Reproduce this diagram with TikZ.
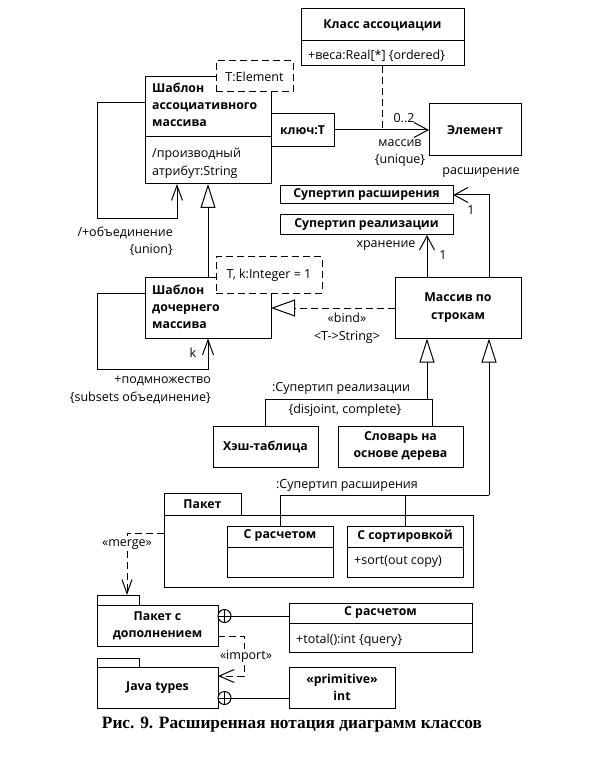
\documentclass[tikz,border=0pt]{standalone}
\usepackage{fontspec}
\setmainfont{Open Sans}
\newfontfamily\capfont{Liberation Serif}
\usetikzlibrary{arrows.meta}
\begin{document}
\begin{tikzpicture}[x=1pt,y=-1pt,
  box/.style={draw, line width=1pt, inner sep=0pt, outer sep=0pt, fill=white},
  dbox/.style={box, dash pattern=on 7pt off 4pt},
  t/.style={font=\fontsize{12.5}{17}\selectfont, inner sep=0pt},
  tb/.style={font=\bfseries\fontsize{12.3}{17}\selectfont, inner sep=0pt},
  ln/.style={line width=1pt},
  dep/.style={ln, dash pattern=on 7pt off 4pt},
  barb/.style={-{Straight Barb[length=14pt,width=15pt]}},
  sbarb/.style={-{Straight Barb[length=15pt,width=11pt]}},
  gen/.style={ln, -{Triangle[open, length=24pt, width=15pt]}},
  nest/.style={circle, draw, line width=1pt, minimum size=13pt, inner sep=0pt, outer sep=0pt, fill=white,
    path picture={\draw[line width=1pt] (path picture bounding box.north) -- (path picture bounding box.south)
      (path picture bounding box.west) -- (path picture bounding box.east);}}
]
\useasboundingbox (0,0) rectangle (591,775);
\fill[white] (0,0) rectangle (591,775);

% Класс ассоциации
\node[box, minimum width=163pt, minimum height=57pt] (ka) at (382.5,37.5) {};
\draw[ln] (ka.west |- 0,41) -- (ka.east |- 0,41);
\node[tb] (kat) at (382.5,25) {Класс ассоциации};
\node[t, anchor=west] (kaa) at (308,56) {+веса:Real[*] \{ordered\}};

% Шаблон ассоциативного массива
\node[box, minimum width=126pt, minimum height=107pt] (sa) at (208,130.5) {};
\draw[ln] (sa.west |- 0,137) -- (sa.east |- 0,137);
\node[tb, anchor=west, align=left] (sat) at (152,105) {Шаблон\\ассоциативного\\массива};
\node[t, anchor=west, align=left, font=\fontsize{12.5}{18}\selectfont] (saa) at (152,163) {/производный\\атрибут:String};
\node[dbox, t, minimum width=77pt, minimum height=31pt] (te) at (254.5,76.5) {T:Element};

% qualifier and Элемент
\node[box, tb, minimum width=63pt, minimum height=33pt] (q) at (302.5,130) {ключ:T};
\node[box, tb, minimum width=92pt, minimum height=52pt] (el) at (475,130) {Элемент};
\draw[ln, barb] (q.east) -- (el.west);
\draw[dep] (ka.south) -- (ka.south |- q.east);
\node[t] (l02) at (404,118) {0..2};
\node[t, align=center] (lmas) at (400,153.5) {массив\\\{unique\}};

% Супертипы
\node[box, tb, minimum width=173pt, minimum height=18pt] (sr) at (366.5,195) {Супертип расширения};
\node[box, tb, minimum width=173pt, minimum height=20pt] (sz) at (366.5,225) {Супертип реализации};

% Массив по строкам
\node[box, tb, align=center, minimum width=126pt, minimum height=61pt, font=\bfseries\fontsize{12.3}{18}\selectfont] (ms) at (458,308) {Массив по\\строкам};
\draw[ln, barb] ([xshift=31pt]ms.north) |- (sr.east);
\draw[ln, barb] ([xshift=-31pt]ms.north) -- ([xshift=-31pt]ms.north |- sz.south);
\node[t] (lras) at (481,173) {расширение};
\node[t] (l1a) at (471,210) {1};
\node[t] (lhr) at (386,246) {хранение};
\node[t] (l1b) at (443,255) {1};

% Шаблон дочернего массива
\node[box, minimum width=126pt, minimum height=61pt] (ch) at (208,308) {};
\node[tb, anchor=west, align=left] (cht) at (152,307) {Шаблон\\дочернего\\массива};
\draw[gen] (ch.north) -- (sa.south);
\node[dbox, t, minimum width=106pt, minimum height=36pt] (tk) at (269,275) {T, k:Integer = 1};
\draw[dep, -{Triangle[open, length=24pt, width=17pt]}] (ms.west) -- (ch.east);
\node[t, align=center, font=\fontsize{12.5}{18}\selectfont] (lbind) at (347,328) {«bind»\\<T->String>};

% self loops
\coordinate (c1) at (97,219);
\draw[ln, sbarb] ([yshift=27.5pt]sa.west) -| (c1) -| ([xshift=-31pt]sa.south);
\node[t, anchor=east] (lun1) at (173,233) {/+объединение};
\node[t, anchor=east] (lun2) at (173,250) {\{union\}};
\coordinate (c2) at (97,369);
\draw[ln, sbarb] ([yshift=15pt]ch.west) -| (c2) -| (ch.south);
\node[t] (lk) at (193,353) {k};
\node[t, anchor=east] (lsub1) at (211,381) {+подмножество};
\node[t, anchor=east] (lsub2) at (211,398) {\{subsets объединение\}};

% realization subtypes
\node[box, tb, minimum width=105pt, minimum height=41pt] (ht) at (265.5,446.5) {Хэш-таблица};
\node[box, tb, align=center, minimum width=125pt, minimum height=41pt] (sd) at (400.5,446.5) {Словарь на\\основе дерева};
\coordinate (g1) at (427,399);
\draw[gen] (g1) -- ([xshift=-31pt]ms.south);
\draw[ln] (ht.north) |- ([xshift=31.5pt]sd.north |- g1) -- ([xshift=31.5pt]sd.north);
\node[t] (lsr1) at (341,388) {:Супертип реализации};
\node[t] (lsr2) at (345,410) {\{disjoint, complete\}};

% Пакет
\node[box, tb, minimum width=77pt, minimum height=22pt] (pkt) at (202.5,504) {Пакет};
\node[box, minimum width=309pt, minimum height=72pt] (pkb) at (318.5,551) {};
\node[box, minimum width=106pt, minimum height=51pt] (cr1) at (280,551.5) {};
\draw[ln] (cr1.west |- 0,547) -- (cr1.east |- 0,547);
\node[tb] (cr1t) at (280,536) {С расчетом};
\node[box, minimum width=116pt, minimum height=51pt] (cs) at (405,551.5) {};
\draw[ln] (cs.west |- 0,547) -- (cs.east |- 0,547);
\node[tb] (cst) at (405,536) {С сортировкой};
\node[t, anchor=west] (csa) at (354,562) {+sort(out copy)};
\coordinate (g2) at (489,495);
\draw[gen] (g2) -- ([xshift=31pt]ms.south);
\draw[ln] (cr1.north) |- (g2);
\draw[ln] (cs.north) -- (cs.north |- g2);
\node[t] (lsr3) at (347,485) {:Супертип расширения};

% Пакет с дополнением
\node[box, minimum width=42pt, minimum height=10pt] (pdt) at (118,600) {};
\node[box, tb, align=center, minimum width=121pt, minimum height=41pt] (pdb) at (157.5,625.5) {Пакет с\\дополнением};
\draw[dep, -{Straight Barb[length=14pt,width=10pt]}] ([yshift=18pt]pkb.west) -| ([xshift=9pt]pdt.north);
\node[t, fill=white, inner sep=1pt] (lmerge) at (127,545) {«merge»};
\node[nest, anchor=west] (n1) at ([yshift=9.5pt]pdb.east) {};
\node[box, minimum width=183pt, minimum height=49pt] (cr2) at (380.5,627.5) {};
\draw[ln] (cr2.west |- 0,623) -- (cr2.east |- 0,623);
\node[tb] (cr2t) at (380.5,613) {С расчетом};
\node[t, anchor=west] (cr2a) at (296,640) {+total():int \{query\}};
\draw[ln] (n1.east) -- (n1.east -| cr2.west);

% Java types
\node[box, minimum width=42pt, minimum height=9pt] (jtt) at (118,662.5) {};
\node[box, tb, minimum width=121pt, minimum height=41pt] (jtb) at (157.5,687.5) {Java types};
\coordinate (ic) at (244,676);
\draw[dep, -{Straight Barb[length=15pt,width=13pt]}] ([yshift=-10.5pt]pdb.east) -| (ic) -- (ic -| jtb.east);
\node[t, fill=white, inner sep=1pt] (limp) at (246,656) {«import»};
\node[nest, anchor=west] (n2) at ([yshift=-10.5pt]jtb.east) {};
\node[box, tb, align=center, minimum width=106pt, minimum height=41pt] (pr) at (342,687.5) {«primitive»\\int};
\draw[ln] (n2.east) -- (n2.east -| pr.west);

% caption
\node[font=\capfont\bfseries\fontsize{17.3}{19}\selectfont, inner sep=0pt] (cap) at (292,725) {Рис. 9. Расширенная нотация диаграмм классов};
\end{tikzpicture}
\end{document}
